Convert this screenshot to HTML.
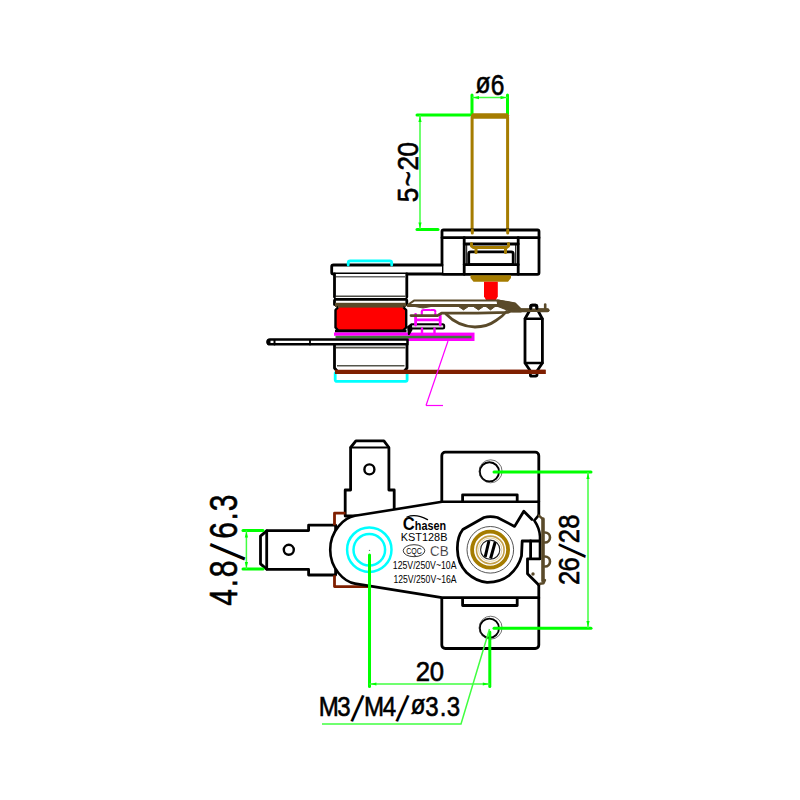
<!DOCTYPE html>
<html lang="en">
<head>
<meta charset="utf-8">
<title>KST128B thermostat drawing</title>
<style>
html,body{margin:0;padding:0;background:#fff;}
body{width:800px;height:800px;overflow:hidden;}
svg{display:block;}
text{font-family:"Liberation Sans",sans-serif;fill:#000;}
.dt{stroke:#000;stroke-width:0.5;}
.k{stroke:#000;fill:none;stroke-width:2.8;stroke-linejoin:round;stroke-linecap:round;}
.kw{stroke:#000;fill:#fff;stroke-width:2.8;stroke-linejoin:round;stroke-linecap:round;}
.g{stroke:#00ff00;fill:none;stroke-width:3;stroke-linecap:round;}
.gt{stroke:#40ff40;fill:none;stroke-width:1.5;}
.ga{fill:#00ff00;stroke:none;}
.b{stroke:#a57c00;fill:none;stroke-width:3;stroke-linecap:round;stroke-linejoin:round;}
.s{stroke:#5a4a2a;fill:none;stroke-width:2.4;stroke-linecap:round;stroke-linejoin:round;}
.m{stroke:#ff00ff;fill:none;stroke-width:2.4;stroke-linecap:round;stroke-linejoin:round;}
.c{stroke:#00ffff;fill:none;stroke-width:2.8;stroke-linecap:round;stroke-linejoin:round;}
.r{stroke:#7f1f00;fill:none;stroke-width:2.8;stroke-linejoin:round;}
.gy{stroke:#808080;fill:none;stroke-width:1.2;}
</style>
</head>
<body>
<svg width="800" height="800" viewBox="0 0 800 800">
<rect width="800" height="800" fill="#fff"/>

<!-- ================= SIDE VIEW ================= -->
<g id="side">
  <!-- dimension o6 -->
  <line class="g" x1="472" y1="95" x2="472" y2="114"/>
  <line class="g" x1="507.5" y1="95" x2="507.5" y2="114"/>
  <line class="gt" x1="472" y1="97.6" x2="507.5" y2="97.6"/>
  <path class="ga" d="M473 97.6l6-1.6v3.2zM506.500 97.6l-6-1.6v3.2z"/>
  <text transform="scale(0.86 1)" font-size="28.571" text-anchor="middle" x="561.512 578.488" y="93 95" stroke="#000" stroke-width="0.6">ø6</text>
  <!-- dimension 5~20 -->
  <line class="g" x1="417" y1="115" x2="471" y2="115"/>
  <line class="g" x1="417" y1="229.400" x2="438" y2="229.400"/>
  <line class="gt" x1="420" y1="115" x2="420" y2="229"/>
  <path class="ga" d="M420 116l-1.600 6h3.200zM420 228.500l-1.600-6h3.200z"/>
  <text transform="translate(417.8 0) rotate(-90) scale(0.89 1)" font-size="29.429" text-anchor="middle" x="-219.101 -200.899 -183.258 -167.528" y="0 0 0 0" stroke="#000" stroke-width="0.6">5~20</text>

  <!-- rod -->
  <path class="b" d="M472.100 230V117M507.600 230V117" style="stroke-linecap:butt"/>
  <path d="M472.500 113.200h35l1.500 2v3.600h-38v-3.600z" fill="#a57c00"/>

  <!-- housing -->
  <rect class="kw" x="442" y="230" width="97" height="44.300" rx="1.500"/>
  <line class="k" x1="442" y1="237.700" x2="539" y2="237.700"/>
  <line class="k" x1="464.200" y1="237.700" x2="464.200" y2="274.300"/>
  <line class="k" x1="518.200" y1="237.700" x2="518.200" y2="274.300"/>
  <line class="k" x1="464.200" y1="244" x2="518.200" y2="244"/>
  <line class="k" x1="466.700" y1="244" x2="466.700" y2="264.700" style="stroke-width:1"/>
  <line class="k" x1="515.700" y1="244" x2="515.700" y2="264.700" style="stroke-width:1"/>
  <rect class="k" x="468.700" y="251.800" width="44.500" height="12.900" rx="2"/>
  <line class="k" x1="464.200" y1="264.700" x2="518.200" y2="264.700"/>
  <!-- brown bracket inside -->
  <path class="b" d="M471.500 243.500v2.500l2 1.500h33l2-1.500v-2.500M476 247.500v5M505.500 247.500v5"/>
  <!-- rod through top flange -->
  <path class="b" d="M472.300 230v3M507.700 230v3"/>
  <!-- brown nut + red pin -->
  <path d="M470.500 275.300h40.500v2.700l-3 3.700h-34.500l-3-3.700z" fill="#a57c00"/>
  <path d="M484 281.700h13.800v14.800l-2.300 4h-9.200l-2.300-4z" fill="#ff0000"/>

  <!-- arm plate -->
  <path class="kw" d="M442 265H333.500a1.800 1.800 0 0 0-1.800 1.800v5.400a1.800 1.800 0 0 0 1.800 1.800H442"/>
  <path class="c" d="M348.200 265v-2.200a2 2 0 0 1 2-2h39.500a2 2 0 0 1 2 2V265"/>

  <!-- stack -->
  <rect x="334.500" y="274" width="72.300" height="25" fill="#fff" stroke="none"/>
  <path class="k" d="M334.500 274v23M406.800 274v23M334.500 300.500v4M406.800 300.500v4"/>
  <line x1="336" y1="276.800" x2="405.500" y2="276.800" stroke="#6a6a6a" stroke-width="1.600"/>
  <line x1="336" y1="296.200" x2="405.500" y2="296.200" stroke="#4a4a44" stroke-width="1.500"/>
  <line x1="334" y1="299.300" x2="407.300" y2="299.300" stroke="#000" stroke-width="2.800"/>
  <rect x="335" y="302.800" width="71" height="4.200" fill="#5a4a2a"/>
  <path d="M338.500 306.800h64.500l3.200 3.200v17.500l-3.200 3.200h-64.500l-3-3.200v-17.500z" fill="#ff0000" stroke="#000" stroke-width="2.400" stroke-linejoin="round"/>
  <rect x="338" y="304.800" width="65.500" height="3.400" fill="#5a4a2a"/>
  <rect x="339" y="307.600" width="63.500" height="2" fill="#ff0000"/>
  <line x1="335" y1="331.200" x2="406.500" y2="331.200" stroke="#000" stroke-width="2.800"/>
  <!-- magenta / green layers -->
  <rect x="334" y="332.500" width="74.500" height="3.300" fill="#ff00ff"/>
  <rect x="408" y="332.600" width="66.500" height="8.400" fill="#ff00ff"/>
  <rect x="335.500" y="335.800" width="136" height="2.500" fill="#3f7a38"/>
  <!-- lower insulator -->
  <rect x="334.500" y="345" width="72.500" height="26" fill="#fff" stroke="none"/>
  <path class="k" d="M334.500 345v23l2.500 3M407 345v23l-2.500 3"/>
  <line x1="336" y1="347.600" x2="405.500" y2="347.600" stroke="#55554c" stroke-width="1.800"/>
  <line x1="337" y1="365.700" x2="404.500" y2="365.700" stroke="#55554c" stroke-width="1.500"/>
  <!-- blade -->
  <path class="kw" d="M407.500 339.500H270a2.400 2.400 0 0 0 0 4.800H407.500z" style="stroke-width:2.500"/>
  <line class="k" x1="274.500" y1="340" x2="274.500" y2="344.500" style="stroke-width:2"/>
  <path d="M270.500 339h-1a3 3 0 0 0 0 6h1z" fill="#000"/>
  <line class="k" x1="310" y1="340" x2="310" y2="344.500" style="stroke-width:1.800"/>
  <!-- cyan bottom -->
  <path class="c" d="M335.200 373v6.800a1.600 1.600 0 0 0 1.600 1.600h68.700a1.600 1.600 0 0 0 1.600-1.600v-6.800"/>
  <!-- dark red base line -->
  <line x1="335" y1="371.900" x2="545.600" y2="371.900" stroke="#7f1f00" stroke-width="4.200"/>

  <!-- magenta leader -->
  <line x1="448" y1="341" x2="426" y2="405.500" stroke="#ff00ff" stroke-width="1.200"/>
  <line x1="426" y1="405.500" x2="443" y2="405.500" stroke="#ff00ff" stroke-width="1.200"/>
  <!-- black small bar + arrow -->
  <rect x="411" y="324.300" width="33.200" height="4.200" rx="1.500" fill="#ddd" stroke="#000" stroke-width="2"/>
  <path d="M411.500 323l-4.500 3.500l1 8.500h1.500l3-5z" fill="#000"/>
  <!-- magenta contact -->
  <path class="m" d="M421.800 314.500v-3a1.500 1.500 0 0 1 1.500-1.500h10.500a1.500 1.500 0 0 1 1.500 1.500v3" style="stroke-dasharray:5 1.500;stroke-width:2.200"/>
  <path class="m" d="M415.600 314.500v10.500M440.200 314.500v10.500M416 319.800h24" style="stroke-width:2.800"/>
  <path class="m" d="M422 328.500v4.500M434.500 328.500v4.500" style="stroke-width:2.400"/>

  <!-- spring assembly -->
  <path class="s" d="M408 304.800l6-4.200h84.500l9 2l7.500 1.200l5 5" style="stroke-width:2"/>
  <path class="s" d="M408 305.400h92l12 3.600" style="stroke-width:3"/>
  <path d="M458.500 306.500l5 3.400l5-3.400zM473.500 306.500l5 3.400l5-3.400zM486 306.500l4.500 3.400l4.500-3.400zM415 306.500l8 1.500l8-1.500z" fill="#5a4a2a" stroke="#5a4a2a" stroke-width="1" stroke-linejoin="round"/>
  <path d="M497 300l10.500 1.500l7.500 1.500l6 6v3h-9l-14-5.500z" fill="#5a4a2a" stroke="#5a4a2a" stroke-width="1.200" stroke-linejoin="round"/>
  <path class="s" d="M512.500 310.200h35" style="stroke-width:4"/>
  <path class="s" d="M545.200 310v-5.500" style="stroke-width:2.600"/>
  <path class="s" d="M411 315.600h26.500l4-2.400h36l30-0.800l6-2.500" style="stroke-width:2.800"/>
  <path class="s" d="M446 314q12 12.500 29 13q12 0 21-6.500q7-4.500 10.500-9" style="stroke-width:2.800"/>

  <!-- capsule -->
  <path class="kw" d="M530.800 308.500V306.300a1.200 1.200 0 0 1 1.200-1.200h3.600a1.200 1.200 0 0 1 1.200 1.200V308.500L542.400 318.800V363L537 371V375a1.200 1.200 0 0 1-1.200 1.200h-4.200a1.200 1.200 0 0 1-1.200-1.200V371L525 363V318.800z"/>
  <line class="k" x1="525" y1="318.800" x2="542.400" y2="318.800" style="stroke-width:2.400"/>
  <line class="k" x1="525" y1="363" x2="542.400" y2="363" style="stroke-width:2.400"/>
  <line x1="500" y1="371.900" x2="545.600" y2="371.900" stroke="#7f1f00" stroke-width="4.400"/>
  <path class="s" d="M520 310.200h27.500" style="stroke-width:3.600"/>
  <path class="k" d="M530.800 308.500V306.300a1.200 1.200 0 0 1 1.200-1.200h3.600a1.200 1.200 0 0 1 1.200 1.200V308.500"/>
</g>

<!-- ================= TOP VIEW ================= -->
<g id="top">
  <!-- mounting plate -->
  <rect class="kw" x="441.800" y="452.200" width="97" height="196.300" rx="3.500"/>
  <circle cx="489.400" cy="471.800" r="9.600" fill="none" stroke="#000" stroke-width="1.900"/>
  <circle cx="490.600" cy="471.300" r="11.500" fill="none" stroke="#333" stroke-width="0.700"/>
  <circle cx="489.400" cy="628.200" r="9.600" fill="none" stroke="#000" stroke-width="1.900"/>
  <circle cx="490.600" cy="627.700" r="11.500" fill="none" stroke="#333" stroke-width="0.700"/>

  <!-- vertical terminal -->
  <path class="kw" d="M350.600 447.500l5.300-6.600h28l5 6.600v42.500h5.300v26h-49v-26h5.400z"/>
  <line class="k" x1="350.600" y1="447.500" x2="388.800" y2="447.500" style="stroke-width:2"/>
  <circle class="k" cx="369.400" cy="469.400" r="5" style="stroke-width:2.400"/>
  <!-- horizontal terminal -->
  <path class="kw" d="M267 530.600h41.600v-5.400h27v49.800h-27v-5.600h-41.600l-6.500-5.500v-27.800z"/>
  <line class="k" x1="266.700" y1="531" x2="266.700" y2="569"/>
  <circle class="k" cx="288.800" cy="549.800" r="5" style="stroke-width:2.400"/>
  <!-- brown brackets -->
  <path class="r" d="M345.500 513.200h-11v12M334.500 575.300v11.300h33.500"/>

  <!-- tabs -->
  <rect class="kw" x="462.600" y="494.800" width="54.600" height="8"/>
  <rect class="kw" x="462.600" y="596.500" width="54.600" height="9"/>

  <!-- body -->
  <path d="M541 501.800H442L355 515.800C344 517.600 330.200 531 330.200 549.700C330.200 568.400 344 581.800 355 583.600L442 597.600H541z" fill="#fff" stroke="none"/>
  <path class="k" d="M538.800 501.800H442L355 515.800C344 517.600 330.200 531 330.200 549.700C330.200 568.400 344 581.800 355 583.600L442 597.600H538.800" style="stroke-width:2.600"/>
  <!-- plate right edge segments over body -->
  <path class="k" d="M538.800 501.600v13.500M538.800 585v13"/>

  <!-- cyan rings -->
  <circle class="c" cx="369.300" cy="549.700" r="22.200" style="stroke-width:2.500"/>
  <circle class="c" cx="369.300" cy="549.700" r="15.800" style="stroke-width:2.500"/>
  <circle cx="369.500" cy="550.400" r="0.700" fill="#777"/>

  <!-- cam -->
  <path class="k" style="stroke-width:2.800" d="M539.400 541H522.200L521.500 556Q518.500 567.500 509 575.500Q500 582.500 487 582.300Q476 581.500 466.500 572.500Q457.600 563 457.400 549.500Q457 537 462.800 529.500L484 517.500Q490 515.800 497.400 517.500L514.600 526.400L523.800 511.200L532 519.400"/>
  <path class="k" style="stroke-width:2.600" d="M538.800 515.200L534.300 520.500Q539.500 528 540 536.500V558.800"/>
  <path class="k" d="M530.600 541v17.800M540 558.800h-12.500v15l11.300 11.200"/>
  <circle cx="533" cy="574" r="1.700" fill="#5a4a2a"/>
  <!-- clip -->
  <path class="s" d="M539 515.600l3.500 3.200M545 580l-1.500 3.200l-3.500 0.500" style="stroke-width:2.400"/>
  <path class="s" d="M543 519v62" style="stroke-width:3.600"/>
  <path class="s" d="M545 532.500a5 5 0 0 1 0 10M545 556.500a5 5 0 0 1 0 10" style="stroke-width:2.600"/>

  <!-- knob rings -->
  <circle cx="490.300" cy="549.800" r="23.300" fill="none" stroke="#555" stroke-width="1"/>
  <circle cx="490.100" cy="549.700" r="18" fill="none" stroke="#a57c00" stroke-width="3.800"/>
  <circle cx="490.300" cy="549.900" r="13.800" fill="none" stroke="#c4a048" stroke-width="1.600"/>
  <circle cx="490.200" cy="549.700" r="11.700" fill="none" stroke="#e0cd9a" stroke-width="0.900"/>
  <circle cx="490.200" cy="549.700" r="9.600" fill="#fff" stroke="#222" stroke-width="1.100"/>
  <path d="M488.900 541l-3.700 15.800M495.200 542l-4.600 16.500" stroke="#000" stroke-width="3" fill="none"/>

  <!-- labels -->
  <path d="M407 517q9-3.600 20.500 2.600" stroke="#000" stroke-width="1.300" fill="none" stroke-linecap="round"/>
  <text font-weight="bold" font-size="12" textLength="43.200" lengthAdjust="spacingAndGlyphs" x="402.800" y="529.700"><tspan font-size="18.500">C</tspan>hasen</text>
  <text x="400.800" y="541.200" font-size="10.300" fill="#444" textLength="46.600" lengthAdjust="spacingAndGlyphs">KST128B</text>
  <ellipse cx="414" cy="550.700" rx="10.800" ry="6" fill="none" stroke="#222" stroke-width="0.900"/>
  <text x="406.200" y="554" font-size="9.200" fill="#222" textLength="15.600" lengthAdjust="spacingAndGlyphs">CQC</text>
  <text x="430" y="556" font-size="14.600" fill="#444" stroke="#fff" stroke-width="0.300" textLength="18.600" lengthAdjust="spacingAndGlyphs">CB</text>
  <text x="392.800" y="569.200" font-size="11" fill="#2a2a2a" textLength="63.700" lengthAdjust="spacingAndGlyphs">125V/250V~10A</text>
  <text x="393.500" y="583" font-size="10.800" fill="#2a2a2a" textLength="63" lengthAdjust="spacingAndGlyphs">125V/250V~16A</text>

  <!-- dimension 4.8/6.3 -->
  <line class="g" x1="243" y1="530.500" x2="263" y2="530.500"/>
  <line class="g" x1="243" y1="569" x2="263" y2="569"/>
  <line class="gt" x1="246.400" y1="530.500" x2="246.400" y2="569"/>
  <path class="ga" d="M246.400 531.500l-1.600 6h3.200zM246.400 568l-1.600-6h3.200z"/>
  <text transform="translate(236.9 0) rotate(-90) scale(0.76 1)" font-size="39.571" text-anchor="middle" x="-786.184 -767.105 -748.684 -730.132 -697.763 -679.342 -661.842" y="0 0 0 6.8 0 0 0" stroke="#000" stroke-width="0.6">4.8<tspan font-size="52" rotate="14" stroke="none">/</tspan>6.3</text>

  <!-- dimension 26/28 -->
  <line class="g" x1="494" y1="472" x2="591" y2="472"/>
  <line class="g" x1="494" y1="628.200" x2="591" y2="628.200"/>
  <line class="gt" x1="588" y1="472" x2="588" y2="628"/>
  <path class="ga" d="M588 473l-1.600 6h3.200zM588 627l-1.600-6h3.200z"/>
  <text transform="translate(579.3 0) rotate(-90) scale(0.885 1)" font-size="29" text-anchor="middle" x="-652.994 -637.627 -625.13 -605.65 -589.379" y="0 0 5.5 0 0" stroke="#000" stroke-width="0.6">26<tspan font-size="39.5" rotate="12" stroke="none">/</tspan>28</text>

  <!-- dimension 20 -->
  <line class="g" x1="369.500" y1="555" x2="369.500" y2="686.500"/>
  <line class="g" x1="489.800" y1="632" x2="489.800" y2="686.500"/>
  <line class="gt" x1="369.400" y1="684" x2="489.800" y2="684"/>
  <path class="ga" d="M370.400 684l6-1.600v3.200zM488.800 684l-6-1.600v3.200z"/>
  <text transform="scale(0.9 1)" font-size="28.571" text-anchor="middle" x="470 485.556" y="681 681" stroke="#000" stroke-width="0.6">20</text>

  <!-- leader M3/M4 -->
  <path class="gt" d="M322 724h139L489.500 629"/>
  <text transform="scale(0.86 1)" font-size="28" text-anchor="middle" x="382.326 400 412.86 434.884 452.907 465.186 486.047 502.326 515.116 527.326" y="715.6 715.6 720.8 715.6 715.6 720.8 714.1 715.6 715.6 715.6" stroke="#000" stroke-width="0.6">M3<tspan font-size="38.5" rotate="12" stroke="none">/</tspan>M4<tspan font-size="38.5" rotate="12" stroke="none">/</tspan>ø3.3</text>
</g>
</svg>
</body>
</html>
